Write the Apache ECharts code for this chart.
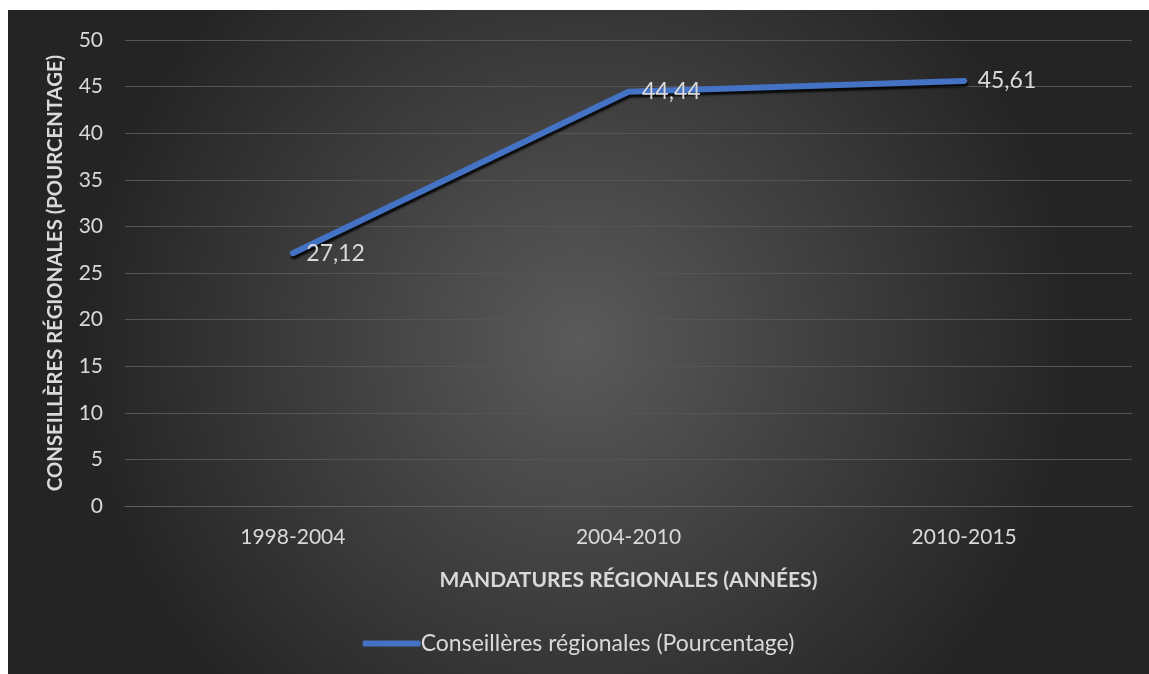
<!DOCTYPE html>
<html>
<head>
<meta charset="utf-8">
<script src="https://cdn.jsdelivr.net/npm/echarts@6/dist/echarts.min.js"></script>
<style>
  html, body { margin: 0; padding: 0; background: #fff; overflow: hidden; }
  #chart { position: absolute; left: 8px; top: 10px; width: 1141px; height: 664px; }
</style>
</head>
<body>
<div id="chart"></div>
<script>
// Données
const categories = ['1998-2004', '2004-2010', '2010-2015'];
const values = [27.12, 44.44, 45.61];
const seriesName = 'Conseillères régionales (Pourcentage)';

const FONT = 'Lato, "Open Sans", sans-serif';
const BLUE = '#4472c4';
const chart = echarts.init(document.getElementById('chart'));

chart.setOption({
    backgroundColor: {
        type: 'radial', x: 0.5, y: 0.5, r: 0.75,
        colorStops: [
            { offset: 0, color: '#5a5a5a' },
            { offset: 1, color: '#242424' }
        ]
    },
    textStyle: { fontFamily: FONT },
    grid: { left: 117, right: 17, top: 30, bottom: 168 },
    legend: {
        data: [seriesName],
        bottom: 14,
        left: 'center',
        itemWidth: 58,
        itemHeight: 6,
        icon: 'roundRect',
        itemStyle: { color: BLUE, opacity: 1 },
        textStyle: { color: '#d9d9d9', fontSize: 23, fontFamily: FONT, padding: [0, 0, 0, -5] }
    },
    xAxis: {
        type: 'category',
        data: categories,
        boundaryGap: true,
        name: 'MANDATURES RÉGIONALES (ANNÉES)',
        nameLocation: 'middle',
        nameGap: 64,
        nameTextStyle: { color: '#d9d9d9', fontSize: 21, fontWeight: 'bold', fontFamily: FONT },
        axisLine: { show: true, lineStyle: { color: '#5f5f5f', width: 1 } },
        axisTick: { show: false },
        axisLabel: { color: '#d9d9d9', fontSize: 21, margin: 21, fontFamily: FONT }
    },
    yAxis: {
        type: 'value',
        min: 0, max: 50, interval: 5,
        name: 'CONSEILLÈRES RÉGIONALES (POURCENTAGE)',
        nameLocation: 'middle',
        nameGap: 60,
        nameTextStyle: { color: '#d9d9d9', fontSize: 20.3, fontWeight: 'bold', fontFamily: FONT },
        axisLine: { show: false },
        axisTick: { show: false },
        axisLabel: { color: '#d9d9d9', fontSize: 21, margin: 22, fontFamily: FONT },
        splitLine: { lineStyle: { color: '#555555', width: 1 } }
    },
    series: [{
        name: seriesName,
        type: 'line',
        data: values,
        symbol: 'circle',
        symbolSize: 3,
        showSymbol: true,
        itemStyle: { color: BLUE },
        lineStyle: {
            color: BLUE, width: 6, cap: 'round', join: 'round',
            shadowColor: 'rgba(0,0,0,0.85)', shadowBlur: 2, shadowOffsetX: 1, shadowOffsetY: 3
        },
        label: {
            show: true,
            position: 'right',
            distance: 12,
            offset: [0, 3],
            color: '#d9d9d9',
            fontSize: 23,
            fontFamily: FONT,
            formatter: p => p.value.toFixed(2).replace('.', ',')
        },
        labelLayout: { hideOverlap: false },
        emphasis: { disabled: true }
    }]
});

window.addEventListener('resize', () => chart.resize());
</script>
</body>
</html>
